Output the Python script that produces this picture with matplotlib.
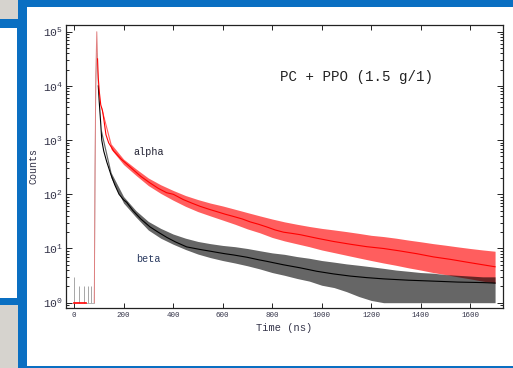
import matplotlib
matplotlib.use("Agg")
import matplotlib.pyplot as plt
from matplotlib.patches import Rectangle

plt.rcParams['font.family'] = ['Liberation Mono', 'DejaVu Sans Mono']

# Alpha (red) curve, centre of the noisy trace
alpha_t = [0, 82, 85, 88, 92, 95, 98, 102, 108, 115, 120, 129, 140, 160, 190, 213,
           240, 270, 307, 340, 374, 401, 441, 475, 509, 545, 576, 610, 644, 680,
           711, 745, 778, 812, 846, 880, 913, 980, 1047, 1115, 1182, 1250, 1317,
           1385, 1451, 1520, 1586, 1640, 1700]
alpha_counts = [1, 1, 300, 16000, 100000, 31600, 14100, 7940, 4470, 3500, 2500, 1260,
                890, 630, 447, 363, 282, 214, 162, 129, 107, 100, 80, 69, 60, 53, 48,
                43, 39, 35, 31, 28, 25, 22, 20, 19, 18, 15.5, 13.5, 12, 10.8, 10, 9.0,
                8.0, 7.0, 6.3, 5.6, 5.1, 4.6]

# Beta (black) curve, centre of the noisy trace
beta_t = [0, 82, 85, 88, 92, 95, 98, 102, 108, 112, 120, 132, 150, 165, 182, 200,
          213, 238, 270, 307, 340, 375, 410, 455, 509, 545, 576, 610, 644, 698,
          745, 778, 846, 913, 980, 1047, 1115, 1182, 1250, 1350, 1450, 1550, 1650, 1700]
beta_counts = [1, 1, 250, 10000, 40000, 20000, 10000, 5000, 2000, 1000, 630, 400, 224,
               148, 100, 79, 71, 50, 35, 25, 20, 16, 13.2, 10.7, 9.6, 9.0, 8.5, 8.0,
               7.6, 6.9, 6.2, 5.8, 5.0, 4.4, 3.8, 3.4, 3.1, 2.9, 2.75, 2.6, 2.5, 2.4,
               2.35, 2.3]

# Spread of the noise around each trace
band_t = [110, 150, 200, 250, 300, 350, 400, 450, 500, 550, 600, 650, 700, 750, 800,
          850, 900, 950, 1000, 1050, 1100, 1150, 1200, 1250, 1300, 1350, 1400, 1450,
          1500, 1550, 1600, 1650, 1700]
alpha_hi = [4270, 851, 447, 295, 200, 150, 118, 95, 80, 69, 61, 53, 46, 40, 35, 31,
            28, 25.5, 23.5, 22, 20.5, 19, 17.5, 16.6, 15.5, 14.3, 13.3, 12.3, 11.5,
            10.7, 10.0, 9.4, 8.9]
alpha_lo = [3720, 676, 355, 224, 145, 104, 78, 60, 48, 40, 33.5, 28, 23, 19.5, 16,
            13.8, 12.2, 10.8, 9.4, 8.4, 7.5, 6.7, 6.0, 5.4, 4.9, 4.4, 4.0, 3.6, 3.3,
            3.0, 2.75, 2.5, 2.3]
beta_hi = [1585, 251, 91, 50, 31.6, 23.5, 18.5, 15.5, 13.5, 12.3, 11.4, 10.8, 10.0,
           9.1, 8.3, 7.8, 7.1, 6.6, 6.0, 5.6, 5.2, 4.9, 4.6, 4.3, 4.0, 3.8, 3.6, 3.5,
           3.3, 3.2, 3.1, 3.0, 3.0]
beta_lo = [1260, 200, 69, 38, 21.9, 15.5, 12.0, 9.6, 7.9, 6.8, 6.0, 5.4, 4.8, 4.2, 3.6,
           3.2, 2.8, 2.5, 2.1, 1.9, 1.6, 1.3, 1.1, 1, 1, 1, 1, 1, 1, 1, 1, 1, 1]

# Spikes in the beta baseline before the pulse
spike_t = [1, 20, 39, 58, 70]
spike_counts = [3, 2, 2, 2, 2]

x_ticks = [0, 200, 400, 600, 800, 1000, 1200, 1400, 1600]

W, H = 513, 368
fig = plt.figure(figsize=(W / 100, H / 100), dpi=100)
fig.patch.set_facecolor("white")

blue = "#0a6fc2"
grey = "#d6d3ce"


def frame_rect(x0, y0, x1, y1, color):
    # pixel box (y measured from the top) drawn in figure coordinates
    fig.add_artist(Rectangle((x0 / W, 1 - y1 / H), (x1 - x0) / W, (y1 - y0) / H,
                             transform=fig.transFigure, facecolor=color,
                             edgecolor="none", zorder=-5))


# slide frame around the chart
frame_rect(0, 0, 20, 368, grey)
frame_rect(0, 19, 27, 305, blue)
frame_rect(0, 28, 17, 298, "white")
frame_rect(18, 0, 27, 368, blue)
frame_rect(19, 0, 513, 7, blue)
frame_rect(27, 366, 513, 368, blue)

ax = fig.add_axes([65.7 / W, 1 - 308 / H, (503 - 65.7) / W, (308 - 24.5) / H])
ax.set_yscale("log")

# noise bands
ax.fill_between(band_t, alpha_lo, alpha_hi, color="#ff1a1a", alpha=0.7, lw=0)
ax.fill_between(band_t, beta_lo, beta_hi, color="#000000", alpha=0.6, lw=0)

# baseline / rising edges
ax.vlines(spike_t, 1, spike_counts, color="#999999", lw=0.6)
ax.plot([48, 82], [1, 1], color="#aaaaaa", lw=0.6)
ax.plot(beta_t[1:7], beta_counts[1:7], color="#b0b0b0", lw=0.6)
ax.plot(alpha_t[1:6], alpha_counts[1:6], color="#e08080", lw=0.7)
ax.plot([0, 48], [1, 1], color="red", lw=1.2)

# decays
ax.plot(beta_t[6:], beta_counts[6:], color="black", lw=0.8)
ax.plot(alpha_t[5:], alpha_counts[5:], color="red", lw=0.8)

ax.set_xlim(-33.5, 1732)
ax.set_ylim(0.798, 1.36e5)
ax.set_xticks(x_ticks)
ax.set_xticklabels([str(v) for v in x_ticks])

tc = "#333348"
ax.tick_params(axis="both", which="both", direction="in", top=True, right=True,
               colors="#222222", width=0.7)
ax.tick_params(axis="x", which="major", length=3.5, labelsize=5.4, pad=3,
               labelcolor=tc)
ax.tick_params(axis="y", which="major", length=4, labelsize=8.2, pad=2,
               labelcolor=tc)
ax.tick_params(axis="y", which="minor", length=2.5)
for s in ax.spines.values():
    s.set_linewidth(0.9)
    s.set_color("#222222")

ax.set_xlabel("Time (ns)", fontsize=7.5, color=tc, labelpad=3)
ax.set_ylabel("Counts", fontsize=7.2, color=tc, labelpad=3)

fig.text(356 / W, 1 - 77 / H, "PC + PPO (1.5 g/1)", fontsize=10.2, color="#222222",
         ha="center", va="center")
fig.text(149 / W, 1 - 152 / H, "alpha", fontsize=7.3, color="#222233",
         ha="center", va="center")
fig.text(148 / W, 1 - 259 / H, "beta", fontsize=7.3, color="#2a3a60",
         ha="center", va="center")

plt.savefig("out.png", dpi=100)
